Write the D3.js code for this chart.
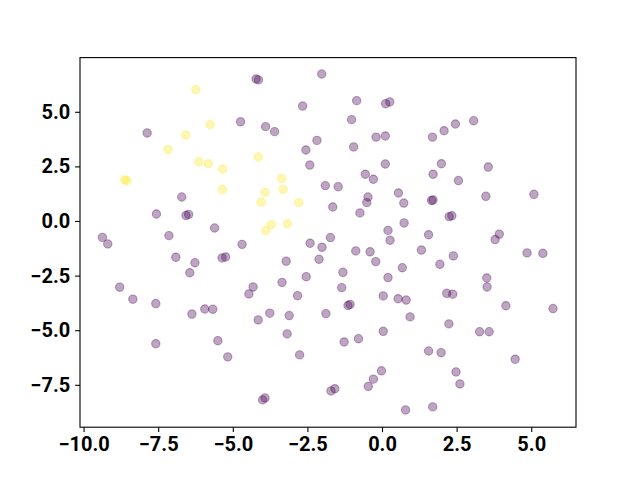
<!DOCTYPE html>
<html>
<head>
<meta charset="utf-8">
<script src="https://cdn.jsdelivr.net/npm/d3@7"></script>
<style>
  html, body { margin: 0; padding: 0; background: #fff; }
  svg { display: block; }
  .tick text { font-family: Roboto, "Liberation Sans", sans-serif; font-weight: bold; font-size: 20px; fill: #000; }
</style>
</head>
<body>
<svg id="chart" width="640" height="480"></svg>
<script>
// Class 0 (purple) points
const purpleX = [-4.74,-7.87,-4.22,-4.14,-2.02,-2.66,-0.85,0.12,0.26,-3.90,-3.60,-1.02,-2.18,-0.20,0.11,-2.55,-0.95,-2.42,0.11,-0.56,-0.29,
  1.69,2.08,2.46,3.07,1.99,1.71,3.56,2.56,
  -6.71,-7.56,-6.57,-6.48,-5.61,-9.37,-9.19,-7.14,-4.69,-6.91,-5.36,-5.24,-6.27,-6.44,-8.79,-8.35,-7.58,-6.37,-5.94,-5.67,-7.58,-5.50,-5.17,
  -1.90,-1.47,-1.65,-0.47,-0.51,-0.74,0.55,0.73,0.74,0.20,0.27,-1.73,-2.41,-2.01,-2.11,-3.21,-0.88,-0.40,-0.21,0.68,-1.31,-2.54,0.20,
  -4.32,-4.46,-3.35,-1.35,-2.83,0.04,0.54,0.81,-1.14,-1.07,
  1.66,1.71,3.48,5.09,2.25,2.34,1.56,1.32,2.39,1.94,3.79,3.93,4.86,5.39,3.51,3.52,2.17,2.37,4.15,5.73,
  -4.15,-3.76,-3.11,-1.88,-3.18,-2.76,-1.27,-0.79,0.04,-0.02,-0.29,-0.46,-1.71,-1.58,-4.00,-3.92,0.79,0.94,2.24,3.27,3.59,1.56,1.98,4.46,2.48,2.61,1.70];
const purpleY = [4.54,4.03,6.50,6.46,6.73,5.26,5.51,5.37,5.45,4.32,4.09,4.64,3.69,3.84,3.89,3.25,3.39,2.56,2.61,2.14,1.91,
  3.84,4.13,4.44,4.59,2.62,2.14,2.47,1.85,
  1.10,0.32,0.25,0.30,-0.32,-0.75,-1.05,-0.67,-1.07,-1.66,-1.69,-1.65,-1.91,-2.37,-3.03,-3.58,-3.78,-4.26,-4.03,-4.04,-5.62,-5.48,-6.22,
  1.62,1.57,0.64,1.10,0.84,0.37,1.28,0.82,-0.09,-0.43,-0.88,-0.76,-1.02,-1.20,-1.75,-1.84,-1.37,-1.41,-1.86,-2.14,-2.35,-2.55,-2.59,
  -3.02,-3.34,-2.81,-3.05,-3.42,-3.43,-3.56,-3.62,-3.87,-3.82,
  0.94,0.96,1.13,1.22,0.20,0.24,-0.63,-1.33,-1.60,-1.98,-0.85,-0.60,-1.46,-1.48,-2.61,-3.02,-3.31,-3.35,-3.88,-4.01,
  -4.53,-4.22,-4.33,-4.24,-5.17,-6.13,-5.54,-5.39,-5.05,-6.86,-7.24,-7.57,-7.78,-7.68,-8.19,-8.10,-8.65,-4.39,-4.71,-5.07,-5.07,-5.95,-6.03,-6.33,-6.91,-7.46,-8.51];
// Class 1 (yellow) points
const yellowX = [-6.24,-5.76,-6.58,-7.17,-6.14,-5.82,-5.34,-8.63,-8.55,-5.35,-4.15,-3.36,-3.92,-3.31,-4.05,-2.79,-3.71,-3.17,-3.90];
const yellowY = [6.01,4.41,3.94,3.26,2.71,2.62,2.38,1.88,1.85,1.45,2.93,1.95,1.31,1.45,0.86,0.84,-0.17,-0.12,-0.44];
const xTicks = [-10, -7.5, -5, -2.5, 0, 2.5, 5];
const yTicks = [-7.5, -5, -2.5, 0, 2.5, 5];

const svg = d3.select("#chart");
const L = 80, R = 576, T = 57.6, B = 427.2;
const x = d3.scaleLinear().domain([-10.12, 6.50]).range([L, R]);
const y = d3.scaleLinear().domain([-9.44, 7.48]).range([B, T]);

const fmt = d => d3.format(".1f")(d).replace("-", "\u2212");

const points = purpleX.map((v, i) => ({x: v, y: purpleY[i], c: "#440154"}))
  .concat(yellowX.map((v, i) => ({x: v, y: yellowY[i], c: "#fde725"})));

svg.append("g").selectAll("circle").data(points).join("circle")
  .attr("cx", d => x(d.x)).attr("cy", d => y(d.y)).attr("r", 4.17)
  .attr("fill", d => d.c).attr("fill-opacity", 0.35)
  .attr("stroke", d => d.c).attr("stroke-opacity", 0.35).attr("stroke-width", 1.1);

const xAxis = svg.append("g").attr("transform", `translate(0,${B})`)
  .call(d3.axisBottom(x).tickValues(xTicks).tickFormat(fmt).tickSize(4.9).tickPadding(4.9));
const yAxis = svg.append("g").attr("transform", `translate(${L},0)`)
  .call(d3.axisLeft(y).tickValues(yTicks).tickFormat(fmt).tickSize(4.9).tickPadding(4.9));
[xAxis, yAxis].forEach(a => {
  a.select(".domain").remove();
  a.selectAll(".tick line").attr("stroke", "#000").attr("stroke-width", 1.1);
});

svg.append("rect").attr("x", L).attr("y", T).attr("width", R - L).attr("height", B - T)
  .attr("fill", "none").attr("stroke", "#000").attr("stroke-width", 1.1);
</script>
</body>
</html>
